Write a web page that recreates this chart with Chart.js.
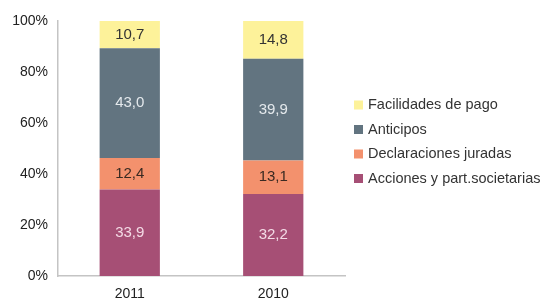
<!DOCTYPE html>
<html>
<head>
<meta charset="utf-8">
<script src="https://cdn.jsdelivr.net/npm/chart.js@4"></script>
<style>
    html, body { margin: 0; padding: 0; background: #fff; }
    #wrap { width: 543px; height: 303px; }
</style>
</head>
<body>
<div id="wrap"><canvas id="chart" width="543" height="303"></canvas></div>
<script>
// Data
const years = ['2011', '2010'];
const acciones = [33.9, 32.2];
const declaraciones = [12.4, 13.1];
const anticipos = [43.0, 39.9];
const facilidades = [10.7, 14.8];
const yTicks = [0, 20, 40, 60, 80, 100];

const FONT = '"Liberation Sans", Arial, sans-serif';

// Draw the value in the middle of every segment
const segmentLabels = {
    id: 'segmentLabels',
    afterDatasetsDraw(chart) {
        const ctx = chart.ctx;
        ctx.save();
        ctx.font = '15px ' + FONT;
        ctx.textAlign = 'center';
        ctx.textBaseline = 'middle';
        chart.data.datasets.forEach((ds, i) => {
            const meta = chart.getDatasetMeta(i);
            meta.data.forEach((bar, j) => {
                const v = ds.data[j];
                ctx.fillStyle = ds.labelColor;
                ctx.fillText(v.toFixed(1).replace('.', ','), bar.x, (bar.y + bar.base) / 2);
            });
        });
        ctx.restore();
    }
};

// Legend on the right, top entry = last dataset
const sideLegend = {
    id: 'sideLegend',
    afterDraw(chart) {
        const ctx = chart.ctx;
        const area = chart.chartArea;
        const dsets = chart.data.datasets.slice().reverse();
        ctx.save();
        ctx.font = '14.5px ' + FONT;
        ctx.textAlign = 'left';
        ctx.textBaseline = 'middle';
        dsets.forEach((ds, i) => {
            const y = area.top + 84 + i * 24.5;
            ctx.fillStyle = ds.backgroundColor;
            ctx.fillRect(area.right + 9, y - 4.5, 9, 9);
            ctx.fillStyle = '#333';
            ctx.fillText(ds.label, area.right + 23, y);
        });
        ctx.restore();
    }
};

const ctx = document.getElementById('chart').getContext('2d');
new Chart(ctx, {
    type: 'bar',
    data: {
        labels: years,
        datasets: [{
            label: 'Acciones y part.societarias',
            data: acciones,
            backgroundColor: '#a64f75',
            labelColor: '#f4dbe6'
        }, {
            label: 'Declaraciones juradas',
            data: declaraciones,
            backgroundColor: '#f3916d',
            labelColor: '#3a2a22'
        }, {
            label: 'Anticipos',
            data: anticipos,
            backgroundColor: '#627480',
            labelColor: '#e4e9ec'
        }, {
            label: 'Facilidades de pago',
            data: facilidades,
            backgroundColor: '#fdf29a',
            labelColor: '#333333'
        }]
    },
    options: {
        responsive: false,
        animation: false,
        layout: { padding: { top: 21, left: 6, right: 198, bottom: 0 } },
        datasets: {
            bar: { barPercentage: 0.42, categoryPercentage: 1 }
        },
        plugins: {
            legend: { display: false },
            tooltip: { enabled: false }
        },
        scales: {
            x: {
                stacked: true,
                afterFit: function(scale) { scale.height = 27; },
                grid: { display: false, drawTicks: false },
                border: { color: '#c4c4c4', width: 1.5 },
                ticks: { color: '#222', padding: 10, font: { family: FONT, size: 14 } }
            },
            y: {
                stacked: true,
                min: 0,
                max: 100,
                afterBuildTicks: function(scale) {
                    scale.ticks = yTicks.map(v => ({ value: v }));
                },
                afterFit: function(scale) { scale.width = 52; },
                grid: { display: false, drawTicks: false },
                border: { color: '#c4c4c4', width: 1.5 },
                ticks: {
                    color: '#222',
                    padding: 10,
                    font: { family: FONT, size: 14 },
                    callback: function(value) { return value + '%'; }
                }
            }
        }
    },
    plugins: [segmentLabels, sideLegend]
});
</script>
</body>
</html>
